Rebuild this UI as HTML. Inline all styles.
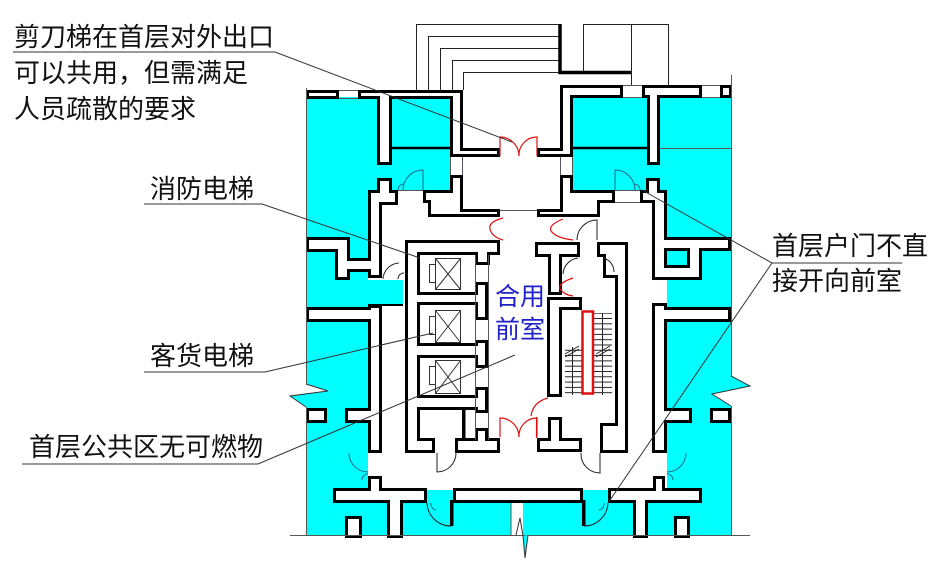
<!DOCTYPE html>
<html><head><meta charset="utf-8"><style>
html,body{margin:0;padding:0;background:#fff;}
svg{display:block;}
text{font-family:"Liberation Sans","Noto Sans CJK SC",sans-serif;}
</style></head><body>
<svg width="950" height="565" viewBox="0 0 950 565" xmlns="http://www.w3.org/2000/svg">
<defs>
<filter id="er" x="-5%" y="-5%" width="110%" height="110%"><feMorphology operator="erode" radius="3"/></filter>
<pattern id="tr" patternUnits="userSpaceOnUse" width="40" height="5.3"><line x1="0" y1="0.5" x2="40" y2="0.5" stroke="#222" stroke-width="1"/></pattern>
<g id="w">
<rect x="306" y="90" width="33" height="9"/>
<rect x="358" y="90" width="105" height="9"/>
<rect x="377" y="90" width="15" height="75"/>
<rect x="450" y="90" width="13" height="67"/>
<rect x="450" y="148" width="50" height="9"/>
<rect x="537" y="148" width="36" height="9"/>
<rect x="560" y="85" width="13" height="72"/>
<rect x="560" y="85" width="63" height="13"/>
<rect x="642" y="85" width="60" height="13"/>
<rect x="720" y="85" width="12" height="13"/>
<rect x="647" y="90" width="13" height="75"/>
<rect x="377" y="178" width="15" height="12"/>
<rect x="646" y="178" width="14" height="12"/>
<rect x="368" y="190" width="30" height="15"/>
<rect x="368" y="190" width="14" height="88"/>
<rect x="423" y="190" width="27" height="13"/>
<rect x="428" y="195" width="22" height="22"/>
<rect x="450" y="175" width="13" height="42"/>
<rect x="450" y="209" width="50" height="8"/>
<rect x="537" y="209" width="36" height="8"/>
<rect x="560" y="175" width="13" height="42"/>
<rect x="560" y="190" width="55" height="13"/>
<rect x="560" y="195" width="40" height="22"/>
<rect x="640" y="190" width="27" height="13"/>
<rect x="652" y="190" width="15" height="90"/>
<rect x="405" y="240" width="95" height="15"/>
<rect x="405" y="240" width="15" height="213"/>
<rect x="475" y="250" width="15" height="15"/>
<rect x="418" y="292" width="57" height="13"/>
<rect x="418" y="343" width="57" height="15"/>
<rect x="418" y="395" width="57" height="15"/>
<rect x="475" y="282" width="13" height="38"/>
<rect x="475" y="340" width="13" height="28"/>
<rect x="475" y="387" width="13" height="26"/>
<rect x="475" y="428" width="13" height="12"/>
<rect x="405" y="438" width="30" height="15"/>
<rect x="455" y="438" width="45" height="15"/>
<rect x="535" y="242" width="45" height="15"/>
<rect x="548" y="242" width="14" height="53"/>
<rect x="597" y="242" width="18" height="15"/>
<rect x="603" y="242" width="12" height="36"/>
<rect x="615" y="242" width="13" height="211"/>
<rect x="547" y="297" width="35" height="13"/>
<rect x="547" y="297" width="15" height="100"/>
<rect x="548" y="417" width="14" height="35"/>
<rect x="537" y="438" width="45" height="14"/>
<rect x="600" y="423" width="15" height="30"/>
<rect x="600" y="438" width="28" height="15"/>
<rect x="652" y="303" width="15" height="150"/>
<rect x="653" y="476" width="12" height="14"/>
<rect x="368" y="305" width="14" height="148"/>
<rect x="368" y="476" width="14" height="14"/>
<rect x="306" y="237" width="44" height="15"/>
<rect x="335" y="237" width="15" height="43"/>
<rect x="335" y="258" width="35" height="14"/>
<rect x="306" y="307" width="64" height="15"/>
<rect x="306" y="408" width="21" height="15"/>
<rect x="345" y="408" width="25" height="15"/>
<rect x="665" y="237" width="66" height="14"/>
<rect x="687" y="237" width="15" height="43"/>
<rect x="665" y="265" width="37" height="15"/>
<rect x="665" y="307" width="66" height="15"/>
<rect x="665" y="408" width="27" height="15"/>
<rect x="710" y="408" width="21" height="15"/>
<rect x="333" y="488" width="94" height="15"/>
<rect x="453" y="488" width="130" height="15"/>
<rect x="608" y="488" width="94" height="15"/>
<rect x="387" y="495" width="16" height="43"/>
<rect x="345" y="516" width="17" height="22"/>
<rect x="633" y="495" width="15" height="43"/>
<rect x="674" y="516" width="16" height="22"/>
</g>
</defs>

<rect x="306" y="97" width="425" height="438" fill="#00ffff"/>
<rect x="463" y="88" width="97" height="128" fill="#fff"/>
<rect x="368" y="190" width="299" height="300" fill="#fff"/>
<rect x="450" y="157" width="13" height="18" fill="#fff"/>
<rect x="560" y="157" width="13" height="18" fill="#fff"/>
<rect x="511" y="503" width="12" height="32" fill="#fff"/>

<use href="#w" fill="#000"/>
<use href="#w" fill="#fff" filter="url(#er)"/>

<rect x="368" y="280" width="35" height="25" fill="#00ffff"/>
<line x1="368" y1="305" x2="403" y2="305" stroke="#000" stroke-width="2"/>

<rect x="462" y="410" width="3.5" height="28" fill="#000"/>
<rect x="450" y="500" width="3.5" height="26" fill="#000"/>
<rect x="582" y="500" width="3.5" height="26" fill="#000"/>

<g stroke="#555" stroke-width="1" fill="none">
<line x1="339" y1="90.5" x2="358" y2="90.5"/><line x1="339" y1="98.5" x2="358" y2="98.5"/>
<line x1="623" y1="85.5" x2="642" y2="85.5"/><line x1="623" y1="97.5" x2="642" y2="97.5"/>
<line x1="702" y1="85.5" x2="720" y2="85.5"/><line x1="702" y1="97.5" x2="720" y2="97.5"/>
<line x1="450.5" y1="157" x2="450.5" y2="175"/><line x1="462.5" y1="157" x2="462.5" y2="175"/>
<line x1="560.5" y1="157" x2="560.5" y2="175"/><line x1="572.5" y1="157" x2="572.5" y2="175"/>
<line x1="660" y1="148.5" x2="731" y2="148.5"/>
<line x1="500" y1="210.5" x2="537" y2="210.5"/>
<line x1="615" y1="190.5" x2="640" y2="190.5"/><line x1="615" y1="202.5" x2="640" y2="202.5"/>
<line x1="398" y1="190.5" x2="423" y2="190.5"/>
<line x1="475.5" y1="255" x2="475.5" y2="440"/><line x1="488.5" y1="255" x2="488.5" y2="440"/>
<line x1="290" y1="535.5" x2="750" y2="535.5"/>
<line x1="306.5" y1="88" x2="306.5" y2="384"/><line x1="306.5" y1="407" x2="306.5" y2="535"/>
<line x1="731.5" y1="75" x2="731.5" y2="376"/><line x1="731.5" y1="406" x2="731.5" y2="535"/>
<line x1="511" y1="503" x2="511" y2="535"/>
</g>
<line x1="392" y1="148" x2="450" y2="148" stroke="#000" stroke-width="2.5"/>
<line x1="573" y1="148" x2="647" y2="148" stroke="#000" stroke-width="2.5"/>

<g stroke="#222" stroke-width="1" fill="none">
<polyline points="416.5,90 416.5,24.5 559,24.5"/>
<polyline points="428.5,90 428.5,36.5 559,36.5"/>
<polyline points="440.5,90 440.5,48.5 559,48.5"/>
<polyline points="452.5,90 452.5,60.5 559,60.5"/>
<polyline points="463.5,90 463.5,72.5 559,72.5"/>
<polyline points="583.5,72 583.5,24.5 668.5,24.5 668.5,85"/>
<line x1="631.5" y1="24" x2="631.5" y2="85"/>
</g>
<polyline points="560,24 560,72.5 631,72.5" stroke="#000" stroke-width="3.5" fill="none"/>

<g stroke="#333" stroke-width="1" fill="none">
<rect x="435.5" y="258.5" width="25" height="31"/><line x1="435.5" y1="258.5" x2="460.5" y2="289.5"/><line x1="460.5" y1="258.5" x2="435.5" y2="289.5"/><rect x="429.5" y="264.5" width="6" height="18"/>
<rect x="435.5" y="310.5" width="25" height="32"/><line x1="435.5" y1="310.5" x2="460.5" y2="342.5"/><line x1="460.5" y1="310.5" x2="435.5" y2="342.5"/><rect x="429.5" y="316.5" width="6" height="18"/>
<rect x="435.5" y="360.5" width="25" height="33"/><line x1="435.5" y1="360.5" x2="460.5" y2="393.5"/><line x1="460.5" y1="360.5" x2="435.5" y2="393.5"/><rect x="429.5" y="366.5" width="6" height="18"/>
</g>

<rect x="593" y="313" width="19" height="82" fill="url(#tr)"/>
<rect x="565" y="347" width="17" height="48" fill="url(#tr)"/>
<g stroke="#222" stroke-width="1">
<line x1="602.5" y1="313" x2="602.5" y2="395"/>
<line x1="572.5" y1="347" x2="572.5" y2="395"/>
<line x1="565" y1="354" x2="579" y2="346"/><line x1="565" y1="357" x2="579" y2="349"/>
<line x1="596" y1="354" x2="610" y2="346"/><line x1="596" y1="357" x2="610" y2="349"/>
</g>
<rect x="582.5" y="311.5" width="10.5" height="82" fill="none" stroke="#e01010" stroke-width="2.5"/>

<g stroke="#e01010" stroke-width="1.2" fill="none">
<path d="M500,156 L500,137 A19,19 0 0 1 519,156"/>
<path d="M537,156 L537,137 A18,18 0 0 0 519,156"/>
<path d="M500,437 L500,418 A19,19 0 0 1 519,437"/>
<path d="M537,437 L537,418 A18,18 0 0 0 519,437"/>
<path d="M503,218 Q488,222 490,229 Q492,237 503,240"/>
<path d="M563,219 Q548,225 551,231 Q556,238 573,240"/>
<path d="M573,278 Q558,283 560,289 Q564,295 573,296"/>
<path d="M548,398 Q533,402 531,416"/>
<line x1="536.5" y1="417" x2="536.5" y2="438"/>
</g>

<g stroke="#222" stroke-width="1" fill="none">
<path d="M597,240 L597,220 A20,20 0 0 0 577,240"/>
<path d="M578,258 A17,17 0 0 0 563,274"/>
<path d="M603,258 A14,14 0 0 1 614,272"/>
<path d="M383,279 A17,17 0 0 1 399,263"/>
<path d="M398,279 A6,6 0 0 1 404,273"/>
<path d="M437,453 L437,472 A19,19 0 0 0 456,453"/>
<path d="M600,453 L600,473 A19,19 0 0 1 581,453"/>
<path d="M427,503 A24,24 0 0 0 451,526"/>
<path d="M608,503 A24,24 0 0 1 584,526"/>
</g>
<g stroke="#1d6a86" stroke-width="1" fill="none">
<path d="M423,190 L423,170 A20,20 0 0 0 403,190"/>
<path d="M398,190 A6,6 0 0 1 404,184"/>
<path d="M615,190 L615,170 A20,20 0 0 1 635,190"/>
<path d="M640,190 A6,6 0 0 0 634,184"/>
<path d="M349,453 A19,19 0 0 0 368,472"/>
<path d="M368,474 A6,6 0 0 0 362,480"/>
<path d="M686,453 A19,19 0 0 1 667,472"/>
<path d="M667,474 A6,6 0 0 1 673,480"/>
<path d="M431,503 A6,6 0 0 0 436,510"/>
<path d="M604,503 A6,6 0 0 1 599,510"/>
</g>

<polygon points="306,384 328,391 306,393.5" fill="#fff"/>
<polygon points="306,393.5 290,396 306,407" fill="#00ffff"/>
<polyline points="306,384 328,391 290,396 306,407" fill="none" stroke="#333" stroke-width="1"/>
<polygon points="731,376 750,386 731,390" fill="#00ffff"/>
<polygon points="731,390 712,394 731,406" fill="#fff"/>
<polyline points="731,376 750,386 712,394 731,406" fill="none" stroke="#333" stroke-width="1"/>
<polygon points="523,536 525,558 528,535" fill="#00ffff"/>
<polyline points="516,535 520,518 523,536 525,558 528,535" fill="none" stroke="#333" stroke-width="1"/>

<g stroke="#333" stroke-width="1" fill="none">
<polyline points="13,52 275,52 512,142"/>
<polyline points="144,204 262,204 420,258"/>
<polyline points="144,372 265,372 433,333"/>
<polyline points="22,464 258,464 515,355"/>
<polyline points="902,263 772,263 642,190"/>
<line x1="772" y1="263" x2="608" y2="503"/>
</g>

<g font-size="26" fill="#111">
<text x="14" y="46">剪刀梯在首层对外出口</text>
<text x="14" y="82">可以共用，但需满足</text>
<text x="14" y="118">人员疏散的要求</text>
<text x="150" y="198">消防电梯</text>
<text x="150" y="365">客货电梯</text>
<text x="29" y="456">首层公共区无可燃物</text>
<text x="772" y="255">首层户门不直</text>
<text x="772" y="290">接开向前室</text>
</g>
<g font-size="25" fill="#2020c8">
<text x="495" y="305">合用</text>
<text x="495" y="338">前室</text>
</g>
</svg>
</body></html>
